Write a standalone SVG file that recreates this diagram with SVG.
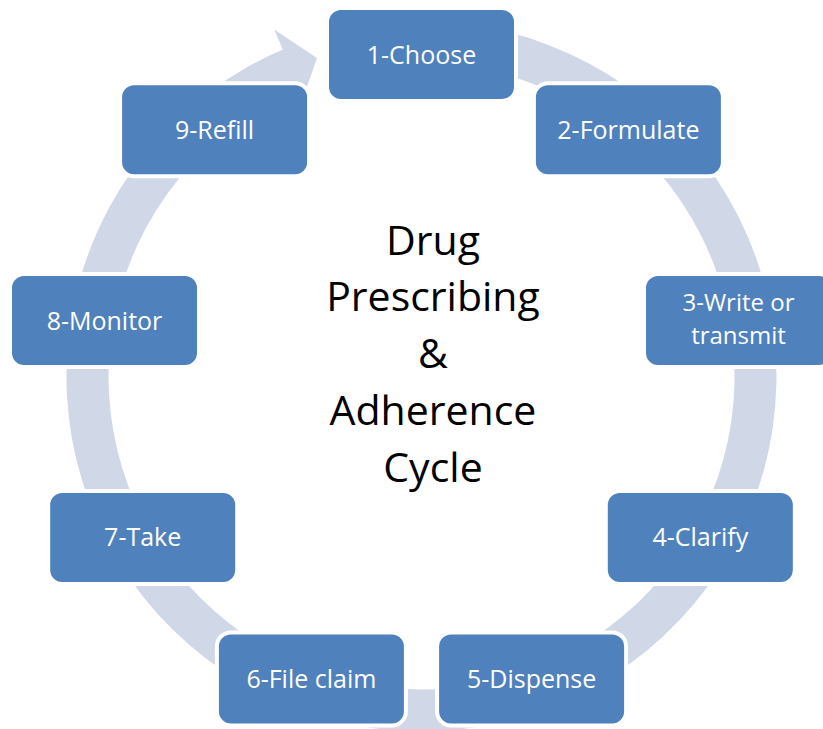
<svg xmlns="http://www.w3.org/2000/svg" width="823" height="729" viewBox="0 0 823 729">
<style>
.node rect{fill:#4F81BD;stroke:#FFFFFF;stroke-width:4}
.node text{fill:#FFFFFF;font-family:"Open Sans","Noto Sans",sans-serif;font-size:25px;text-anchor:middle}
.node text.two{font-size:24px}
.title{fill:#000000;font-family:"Open Sans","Noto Sans",sans-serif;font-size:41px;text-anchor:middle}
.ring{fill:#D0D8E8;stroke:none}
</style>
<rect width="823" height="729" fill="#FFFFFF"/>
<g id="connectors">
<path class="ring" d="M 421.5 21.4 A 355 355 0 1 1 282.8 49.6 L 274.2 29.4 L 317 58 L 300 107 L 299.2 88.3 A 313 313 0 1 0 421.5 63.4 Z"/>
</g>
<g id="center-title">
<text class="title" x="433" y="255">Drug</text>
<text class="title" x="433" y="311">Prescribing</text>
<text class="title" x="433" y="368">&amp;</text>
<text class="title" x="433" y="425">Adherence</text>
<text class="title" x="433" y="482">Cycle</text>
</g>
<g id="node1" class="node"><rect x="327" y="8" width="189" height="93" rx="14"/><text x="421.5" y="63.5">1-Choose</text></g>
<g id="node2" class="node"><rect x="533.9" y="83.3" width="189" height="93" rx="14"/><text x="628.4" y="138.8">2-Formulate</text></g>
<g id="node3" class="node"><rect x="644" y="274" width="189" height="93" rx="14"/><text class="two" x="738.5" y="311">3-Write or</text><text class="two" x="738.5" y="344">transmit</text></g>
<g id="node4" class="node"><rect x="605.8" y="490.9" width="189" height="93" rx="14"/><text x="700.3" y="546.4">4-Clarify</text></g>
<g id="node5" class="node"><rect x="437.1" y="632.4" width="189" height="93" rx="14"/><text x="531.6" y="687.9">5-Dispense</text></g>
<g id="node6" class="node"><rect x="216.9" y="632.4" width="189" height="93" rx="14"/><text x="311.4" y="687.9">6-File claim</text></g>
<g id="node7" class="node"><rect x="48.2" y="490.9" width="189" height="93" rx="14"/><text x="142.7" y="546.4">7-Take</text></g>
<g id="node8" class="node"><rect x="10" y="274" width="189" height="93" rx="14"/><text x="104.5" y="329.5">8-Monitor</text></g>
<g id="node9" class="node"><rect x="120.1" y="83.3" width="189" height="93" rx="14"/><text x="214.6" y="138.8">9-Refill</text></g>
</svg>
